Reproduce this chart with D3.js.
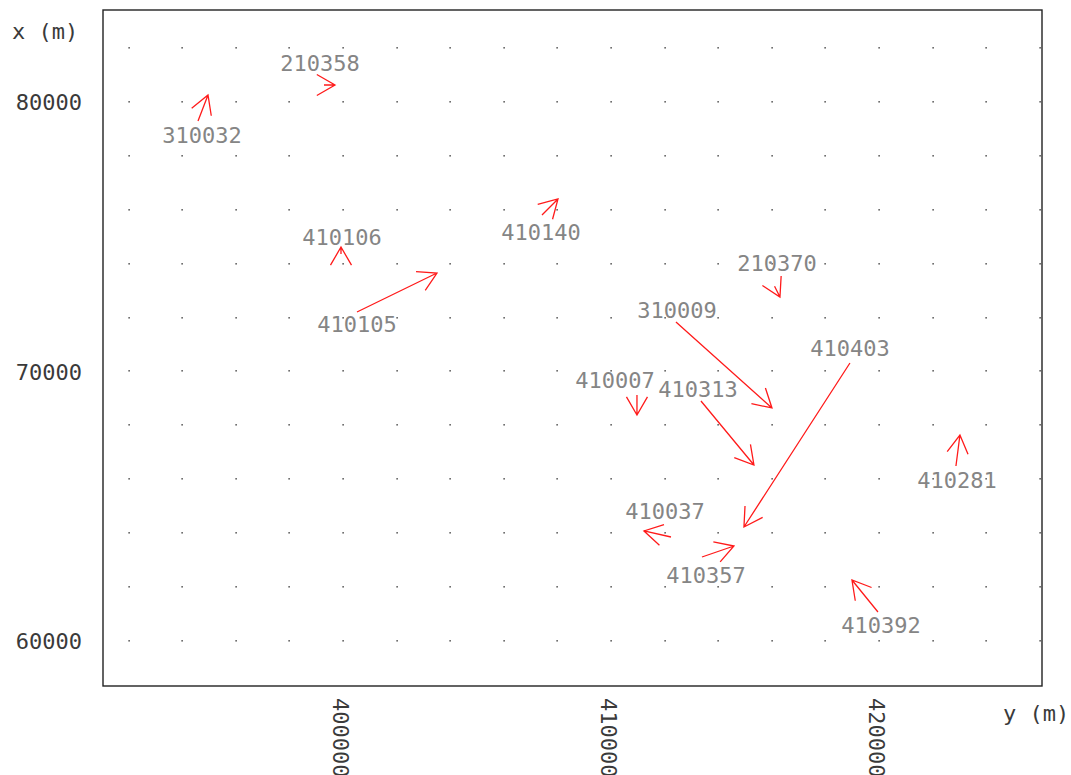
<!DOCTYPE html>
<html>
<head>
<meta charset="utf-8">
<script src="https://cdn.jsdelivr.net/npm/d3@7"></script>
<style>
    body { margin: 0; background: #fff; }
    svg text { font-family: "DejaVu Sans Mono", monospace; font-size: 22px; }
</style>
</head>
<body>
<svg id="chart" width="1071" height="775"></svg>
<script>
// station names
var stations = ["310032", "210358", "410106", "410105", "410140", "210370", "310009",
                "410403", "410007", "410313", "410281", "410037", "410357", "410392"];

// arrow tail, easting "y" and northing "x" (m)
var tailY = [394590, 399291, 399925, 400522, 407425, 416103, 412424,
             418916, 410969, 413357, 422871, 412238, 413394, 419961];
var tailX = [79295, 80631, 74360, 72208, 75807, 73162, 71837,
             70315, 69128, 68905, 66494, 63859, 63117, 61076];

// displacement vector as drawn on the map (m)
var dY = [373, 411, 0, 2985, 597, 201, 3582, -3955, 0, 1977, 149, -1008, 1194, -970];
var dX = [965, 0, 260, 1447, 594, -397, -3191, -6085, -742, -2374, 1150, 223, 408, 1187];

// where each name is written (m)
var labelY = [394739, 399142, 399963, 400522, 407387, 416193, 412461,
              418916, 410148, 413245, 422908, 412014, 413544, 420073];
var labelX = [78479, 81150, 74694, 71466, 74880, 73729, 71985,
              70575, 69388, 69054, 65677, 64527, 62152, 60297];

var yTicks = [400000, 410000, 420000];
var xTicks = [60000, 70000, 80000];

var svg = d3.select("#chart");

var plotL = 103, plotR = 1042, plotT = 10, plotB = 686;

var sx = d3.scaleLinear().domain([391045, 426082]).range([plotL, plotR]);
var sy = d3.scaleLinear().domain([58330, 83414]).range([plotB, plotT]);

// dotted grid every 2 km
var gridE = d3.range(392000, 426001, 2000),
    gridN = d3.range(60000, 82001, 2000);
var dots = [];
gridN.forEach(function(n) {
    gridE.forEach(function(e) { dots.push([e, n]); });
});
svg.append("g").selectAll("rect")
    .data(dots).enter()
    .append("rect")
    .attr("x", function(d) { return Math.round(sx(d[0])) - 0.5; })
    .attr("y", function(d) { return Math.round(sy(d[1])) - 1; })
    .attr("width", 1.2).attr("height", 1.6)
    .attr("fill", "#333");

// frame
svg.append("rect")
    .attr("x", plotL).attr("y", plotT)
    .attr("width", plotR - plotL).attr("height", plotB - plotT)
    .attr("fill", "none")
    .attr("stroke", "#222")
    .attr("stroke-width", 1.4);

// left axis labels
var yAxis = d3.axisLeft(sy).tickValues(xTicks).tickSize(0).tickPadding(21)
    .tickFormat(d3.format("d"));
svg.append("g").attr("transform", "translate(" + plotL + ",0)").call(yAxis)
    .call(function(g) {
        g.select(".domain").remove();
        g.selectAll("text").attr("font-size", 22).attr("font-family", null)
            .attr("fill", "#3a3a3a").attr("dy", "0.36em");
    });

// bottom labels, turned a quarter
svg.append("g").selectAll("g")
    .data(yTicks).enter()
    .append("g")
    .attr("transform", function(d) { return "translate(" + (sx(d) - 2) + ",698) rotate(90)"; })
    .append("text")
    .attr("dy", "0.36em")
    .attr("font-size", 23)
    .attr("fill", "#3a3a3a")
    .text(function(d) { return d; });

svg.append("text").attr("x", 12).attr("y", 39).attr("fill", "#3a3a3a").text("x (m)");
svg.append("text").attr("x", 1003).attr("y", 721).attr("fill", "#3a3a3a").text("y (m)");

// arrows
var BARB = 21, SPREAD = Math.PI / 6;

function arrowPath(i) {
    var x0 = sx(tailY[i]), y0 = sy(tailX[i]);
    var x1 = sx(tailY[i] + dY[i]), y1 = sy(tailX[i] + dX[i]);
    var back = Math.atan2(y0 - y1, x0 - x1);
    var p = d3.path();
    p.moveTo(x0, y0);
    p.lineTo(x1, y1);
    p.moveTo(x1 + BARB * Math.cos(back - SPREAD), y1 + BARB * Math.sin(back - SPREAD));
    p.lineTo(x1, y1);
    p.lineTo(x1 + BARB * Math.cos(back + SPREAD), y1 + BARB * Math.sin(back + SPREAD));
    return p.toString();
}

svg.append("g").selectAll("path")
    .data(d3.range(stations.length)).enter()
    .append("path")
    .attr("d", arrowPath)
    .attr("fill", "none")
    .attr("stroke", "#ff1a1a")
    .attr("stroke-width", 1.3);

svg.append("g").selectAll("text")
    .data(d3.range(stations.length)).enter()
    .append("text")
    .attr("x", function(i) { return sx(labelY[i]); })
    .attr("y", function(i) { return sy(labelX[i]); })
    .attr("text-anchor", "middle")
    .attr("fill", "#858585")
    .text(function(i) { return stations[i]; });
</script>
</body>
</html>
